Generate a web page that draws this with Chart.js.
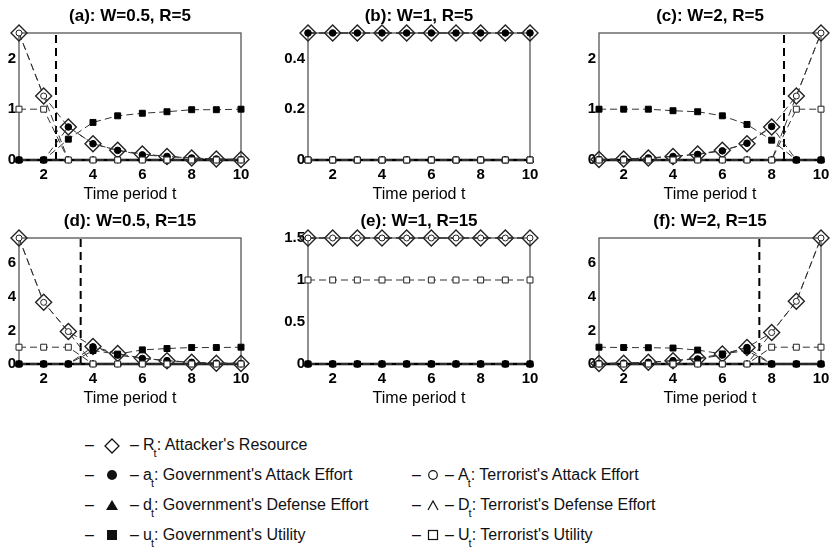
<!DOCTYPE html>
<html>
<head>
<meta charset="utf-8">
<script src="https://cdn.jsdelivr.net/npm/chart.js@4"></script>
<style>
body { margin:0; width:832px; height:547px; overflow:hidden; background:#fff; position:relative;
       font-family:"Liberation Sans", Arial, sans-serif; }
canvas.pn { position:absolute; }
.lg { position:absolute; font-size:16px; color:#111; white-space:nowrap; line-height:20px; height:20px; }
.lg .d { display:inline-block; width:9px; vertical-align:top; }
.lg .sym { display:inline-block; text-align:center; vertical-align:top; height:20px; }
.lg .sym svg { margin-top:3px; }
.lg .lab { margin-left:4px; vertical-align:top; }
.lg sub { font-size:11px; position:relative; top:3px; margin-left:-1px; }
</style>
</head>
<body>
<canvas class="pn" id="p0" width="302" height="203"></canvas>
<canvas class="pn" id="p1" width="302" height="203"></canvas>
<canvas class="pn" id="p2" width="302" height="203"></canvas>
<canvas class="pn" id="p3" width="302" height="202"></canvas>
<canvas class="pn" id="p4" width="302" height="202"></canvas>
<canvas class="pn" id="p5" width="302" height="202"></canvas>

<div class="lg" style="left:85px;top:435px"><span class="d">–</span><span class="sym" style="width:36px"><svg width="16" height="16"><polygon points="8,1 15,8 8,15 1,8" fill="none" stroke="#111" stroke-width="1.3"/></svg></span><span class="d">–</span><span class="lab">R<sub>t</sub>: Attacker's Resource</span></div>
<div class="lg" style="left:85px;top:465px"><span class="d">–</span><span class="sym" style="width:36px"><svg width="14" height="14"><circle cx="7" cy="7" r="5" fill="#111"/></svg></span><span class="d">–</span><span class="lab">a<sub>t</sub>: Government's Attack Effort</span></div>
<div class="lg" style="left:85px;top:495px"><span class="d">–</span><span class="sym" style="width:36px"><svg width="14" height="14"><polygon points="1,12 7,2 13,12" fill="#111"/></svg></span><span class="d">–</span><span class="lab">d<sub>t</sub>: Government's Defense Effort</span></div>
<div class="lg" style="left:85px;top:525px"><span class="d">–</span><span class="sym" style="width:36px"><svg width="14" height="14"><rect x="2" y="2" width="10" height="10" fill="#111"/></svg></span><span class="d">–</span><span class="lab">u<sub>t</sub>: Government's Utility</span></div>
<div class="lg" style="left:412px;top:465px"><span class="d">–</span><span class="sym" style="width:24px"><svg width="14" height="14"><circle cx="7" cy="7" r="4.3" fill="none" stroke="#111" stroke-width="1.2"/></svg></span><span class="d">–</span><span class="lab">A<sub>t</sub>: Terrorist's Attack Effort</span></div>
<div class="lg" style="left:412px;top:495px"><span class="d">–</span><span class="sym" style="width:24px"><svg width="14" height="14"><polyline points="2,12 7,3 12,12" fill="none" stroke="#111" stroke-width="1.2"/></svg></span><span class="d">–</span><span class="lab">D<sub>t</sub>: Terrorist's Defense Effort</span></div>
<div class="lg" style="left:412px;top:525px"><span class="d">–</span><span class="sym" style="width:24px"><svg width="14" height="14"><rect x="2.5" y="2.5" width="9" height="9" fill="none" stroke="#111" stroke-width="1.2"/></svg></span><span class="d">–</span><span class="lab">U<sub>t</sub>: Terrorist's Utility</span></div>

<script>
const T = [1, 2, 3, 4, 5, 6, 7, 8, 9, 10];
const X_TICKS = [2, 4, 6, 8, 10];
const ZERO = [0, 0, 0, 0, 0, 0, 0, 0, 0, 0];

// R = attacker's resource, ga/gu = government attack/utility,
// ta/tu = terrorist attack/utility

// (a) W=0.5, R=5
const R_a  = [2.5, 1.26, 0.65, 0.32, 0.19, 0.12, 0.07, 0.04, 0.02, 0.01];
const ga_a = [0, 0, 0.65, 0.32, 0.19, 0.1, 0.07, 0.04, 0.02, 0.01];
const gu_a = [0, 0, 0.41, 0.74, 0.87, 0.92, 0.95, 0.99, 0.99, 1.0];
const ta_a = [2.5, 1.26, 0, 0, 0, 0, 0, 0, 0, 0];
const tu_a = [1.0, 1.0, 0, 0, 0, 0, 0, 0, 0, 0];

// (b) W=1, R=5
const R_b  = [0.5, 0.5, 0.5, 0.5, 0.5, 0.5, 0.5, 0.5, 0.5, 0.5];
const ga_b = [0.5, 0.5, 0.5, 0.5, 0.5, 0.5, 0.5, 0.5, 0.5, 0.5];
const gu_b = ZERO;
const ta_b = ZERO;
const tu_b = ZERO;

// (c) W=2, R=5
const R_c  = [0.01, 0.02, 0.04, 0.07, 0.12, 0.19, 0.32, 0.65, 1.26, 2.5];
const ga_c = [0.01, 0.02, 0.04, 0.07, 0.11, 0.18, 0.33, 0.66, 0, 0];
const gu_c = [1.0, 1.0, 1.0, 0.97, 0.95, 0.87, 0.7, 0.39, 0, 0];
const ta_c = [0, 0, 0, 0, 0, 0, 0, 0, 1.26, 2.5];
const tu_c = [0, 0, 0, 0, 0, 0, 0, 0, 1.0, 1.0];

// (d) W=0.5, R=15
const R_d  = [7.5, 3.67, 1.93, 1.04, 0.62, 0.35, 0.2, 0.1, 0.05, 0.03];
const ga_d = [0, 0, 0, 1.02, 0.53, 0.33, 0.2, 0.1, 0.05, 0.03];
const gu_d = [0, 0, 0, 0.8, 0.59, 0.84, 0.92, 0.98, 0.98, 1.0];
const ta_d = [7.5, 3.67, 1.93, 0, 0, 0, 0, 0, 0, 0];
const tu_d = [1.0, 1.0, 1.0, 0, 0, 0, 0, 0, 0, 0];

// (e) W=1, R=15
const R_e  = [1.5, 1.5, 1.5, 1.5, 1.5, 1.5, 1.5, 1.5, 1.5, 1.5];
const ga_e = ZERO;
const gu_e = ZERO;
const ta_e = [1.5, 1.5, 1.5, 1.5, 1.5, 1.5, 1.5, 1.5, 1.5, 1.5];
const tu_e = [1.0, 1.0, 1.0, 1.0, 1.0, 1.0, 1.0, 1.0, 1.0, 1.0];

// (f) W=2, R=15
const R_f  = [0.03, 0.05, 0.1, 0.2, 0.34, 0.59, 0.98, 1.87, 3.73, 7.5];
const ga_f = [0.03, 0.05, 0.1, 0.2, 0.3, 0.53, 0.98, 0, 0, 0];
const gu_f = [1.0, 0.98, 0.97, 0.95, 0.83, 0.6, 0.8, 0, 0, 0];
const ta_f = [0, 0, 0, 0, 0, 0, 0, 1.87, 3.73, 7.5];
const tu_f = [0, 0, 0, 0, 0, 0, 0, 1.0, 1.0, 1.0];

// defense efforts stay at zero in every panel
const gd_all = ZERO;
const td_all = ZERO;

const TITLES = ['(a): W=0.5, R=5', '(b): W=1, R=5', '(c): W=2, R=5',
                '(d): W=0.5, R=15', '(e): W=1, R=15', '(f): W=2, R=15'];
const Y_MAX = [2.5, 0.5, 2.5, 7.5, 1.5, 7.5];
const Y_TICKS = [[0, 1, 2], [0, 0.2, 0.4], [0, 1, 2], [0, 2, 4, 6], [0, 0.5, 1, 1.5], [0, 2, 4, 6]];
const SWITCH_T = [2.5, null, 8.5, 3.5, null, 7.5];

const panels = [
  [R_a, ga_a, gu_a, ta_a, tu_a],
  [R_b, ga_b, gu_b, ta_b, tu_b],
  [R_c, ga_c, gu_c, ta_c, tu_c],
  [R_d, ga_d, gu_d, ta_d, tu_d],
  [R_e, ga_e, gu_e, ta_e, tu_e],
  [R_f, ga_f, gu_f, ta_f, tu_f]
];

// plot area top-left of each panel in the page
const PLOT_POS = [[19, 33], [308, 33], [599, 33], [19, 238], [308, 238], [599, 238]];
const YW = 40, TH = 31, XH = 45;

Chart.defaults.font.family = "'Liberation Sans', Arial, sans-serif";
Chart.defaults.color = '#000';

const frame = {
  id: 'frame',
  beforeDatasetsDraw(chart) {
    const {ctx, chartArea: c} = chart;
    ctx.save();
    ctx.strokeStyle = '#555';
    ctx.lineWidth = 1.3;
    ctx.strokeRect(c.left, c.top, c.right - c.left, c.bottom - c.top);
    ctx.strokeStyle = '#000';
    ctx.lineWidth = 2.5;
    ctx.beginPath();
    ctx.moveTo(c.left, c.bottom);
    ctx.lineTo(c.right, c.bottom);
    ctx.stroke();
    ctx.restore();
  }
};

function line(vals, style) {
  return Object.assign({
    data: T.map((t, k) => ({x: t, y: vals[k]})),
    borderColor: '#333',
    borderWidth: 1,
    borderDash: [7, 4],
    pointBorderColor: '#222',
    pointBorderWidth: 1,
    fill: false,
    clip: 12
  }, style);
}

panels.forEach((p, i) => {
  const [R, ga, gu, ta, tu] = p;
  const cv = document.getElementById('p' + i);
  cv.style.left = (PLOT_POS[i][0] - YW) + 'px';
  cv.style.top = (PLOT_POS[i][1] - TH) + 'px';

  const datasets = [
    line(tu, {pointStyle: 'rect', pointRadius: 4.2, pointBackgroundColor: '#fff', order: 1}),
    line(gu, {pointStyle: 'rect', pointRadius: 4.2, pointBackgroundColor: '#000', pointBorderColor: '#000', order: 2}),
    line(ta, {pointStyle: 'circle', pointRadius: 3, pointBackgroundColor: '#fff', order: 3}),
    line(ga, {pointStyle: 'circle', pointRadius: 3.3, pointBackgroundColor: '#000', pointBorderColor: '#000', order: 4}),
    line(td_all, {pointStyle: 'triangle', pointRadius: 4, pointBackgroundColor: '#fff', order: 5}),
    line(gd_all, {pointStyle: 'triangle', pointRadius: 4, pointBackgroundColor: '#000', order: 6}),
    line(R, {pointStyle: 'rectRot', pointRadius: 8, pointBorderWidth: 1.4,
             pointBackgroundColor: 'rgba(255,255,255,0)', order: 7})
  ];
  if (SWITCH_T[i] !== null) {
    datasets.push({
      data: [{x: SWITCH_T[i], y: 0}, {x: SWITCH_T[i], y: Y_MAX[i]}],
      borderColor: '#000', borderWidth: 2, borderDash: [8, 5],
      pointRadius: 0, fill: false, order: 9
    });
  }

  new Chart(cv, {
    type: 'line',
    data: {datasets: datasets},
    options: {
      responsive: false,
      animation: false,
      layout: {padding: 0},
      plugins: {
        legend: {display: false},
        tooltip: {enabled: false},
        title: {
          display: true,
          text: TITLES[i],
          color: '#000',
          font: {size: 17, weight: 'bold', lineHeight: 1.2},
          padding: {top: 4, bottom: 6.6}
        }
      },
      scales: {
        x: {
          type: 'linear', min: 1, max: 10,
          afterBuildTicks: s => { s.ticks = X_TICKS.map(v => ({value: v})); },
          afterFit: s => { s.height = XH; },
          grid: {display: false, drawTicks: false},
          border: {display: false},
          ticks: {padding: 6, autoSkip: false, maxRotation: 0, color: '#000',
                  font: {size: 15, weight: 'bold'}, callback: v => String(v)},
          title: {display: true, text: 'Time period t', color: '#000',
                  font: {size: 16, lineHeight: 1.2}, padding: {top: 0, bottom: 1}}
        },
        y: {
          min: 0, max: Y_MAX[i],
          afterBuildTicks: s => { s.ticks = Y_TICKS[i].map(v => ({value: v})); },
          afterFit: s => { s.width = YW; },
          grid: {display: false, drawTicks: false},
          border: {display: false},
          ticks: {padding: 3, color: '#000', font: {size: 15, weight: 'bold'},
                  callback: v => String(v)}
        },
        // empty right axis, only keeps the panel symmetric so the title centres on the plot
        y2: {
          position: 'right', min: 0, max: 1,
          afterFit: s => { s.width = YW; },
          grid: {display: false, drawTicks: false},
          border: {display: false},
          ticks: {display: false}
        }
      }
    },
    plugins: [frame]
  });
});
</script>
</body>
</html>
